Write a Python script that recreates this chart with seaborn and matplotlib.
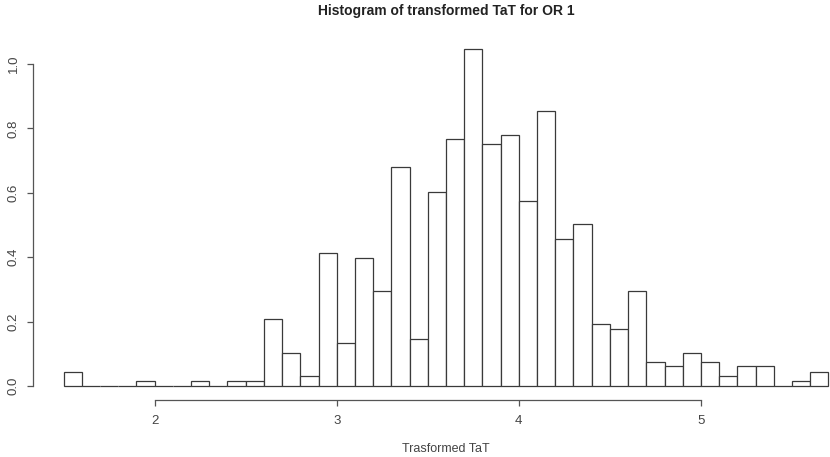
import numpy as np
import pandas as pd
import matplotlib
matplotlib.use("Agg")
import matplotlib.pyplot as plt
import seaborn as sns

# Bin edges (width 0.1) and density heights
bin_edges = [round(1.5 + 0.1 * i, 2) for i in range(43)]
densities = [
    0.045, 0.0, 0.0, 0.0, 0.0166,          # 1.5 - 2.0
    0.0, 0.0, 0.0166, 0.0, 0.0166,         # 2.0 - 2.5
    0.0166, 0.207, 0.104, 0.030, 0.412,    # 2.5 - 3.0
    0.135, 0.397, 0.295, 0.679, 0.147,     # 3.0 - 3.5
    0.604, 0.768, 1.045, 0.750, 0.779,     # 3.5 - 4.0
    0.575, 0.854, 0.458, 0.502, 0.192,     # 4.0 - 4.5
    0.177, 0.295, 0.0756, 0.061, 0.104,    # 4.5 - 5.0
    0.0756, 0.030, 0.061, 0.061, 0.0,      # 5.0 - 5.5
    0.0166, 0.045,                         # 5.5 - 5.7
]
x_ticks = [2, 3, 4, 5]
y_ticks = [0.0, 0.2, 0.4, 0.6, 0.8, 1.0]

title = "Histogram of transformed TaT for OR 1"
x_label = "Trasformed TaT"

sns.set_style("white")
plt.rcParams['font.family'] = ['Liberation Sans', 'DejaVu Sans']

fig = plt.figure(figsize=(8.3, 4.57), dpi=100)
# R style plot region; the right side runs past the cropped picture
ax = fig.add_axes([33 / 830, 57.5 / 457, 826 / 830, 363.5 / 457])

df = pd.DataFrame({
    "tat": [(a + b) / 2 for a, b in zip(bin_edges[:-1], bin_edges[1:])],
    "density": densities,
})
sns.histplot(data=df, x="tat", weights="density", bins=bin_edges,
             stat="count", color="white", edgecolor="#3a3a3a",
             linewidth=0.9, alpha=1, ax=ax)

# R extends the axis range by 4 percent on each side
xr = bin_edges[-1] - bin_edges[0]
ax.set_xlim(bin_edges[0] - 0.04 * xr, bin_edges[-1] + 0.04 * xr)
ymax = max(densities)
ax.set_ylim(-0.04 * ymax, 1.04 * ymax)

ax.set_xticks(x_ticks)
ax.set_xticklabels([str(t) for t in x_ticks])
ax.set_yticks(y_ticks)
ax.set_yticklabels([f"{t:.1f}" for t in y_ticks], rotation=90, va="center")

for side in ["top", "right"]:
    ax.spines[side].set_visible(False)
ax.spines["left"].set_bounds(y_ticks[0], y_ticks[-1])
ax.spines["bottom"].set_bounds(x_ticks[0], x_ticks[-1])
for side in ["left", "bottom"]:
    ax.spines[side].set_color("#555555")
    ax.spines[side].set_linewidth(0.9)

ax.tick_params(axis="both", direction="out", length=4.5, width=0.9,
               color="#555555", labelcolor="#444444", labelsize=9.5,
               pad=5, left=True, bottom=True)
ax.tick_params(axis="x", pad=7)

ax.set_xlabel(x_label, fontsize=9, color="#444444", labelpad=11)
ax.set_ylabel("")
fig.text((33 + 859) / 2 / 830, 1 - 11 / 457, title, ha="center", va="center",
         fontsize=10, fontweight="bold", color="#222222")

fig.savefig("out.png", dpi=100)
